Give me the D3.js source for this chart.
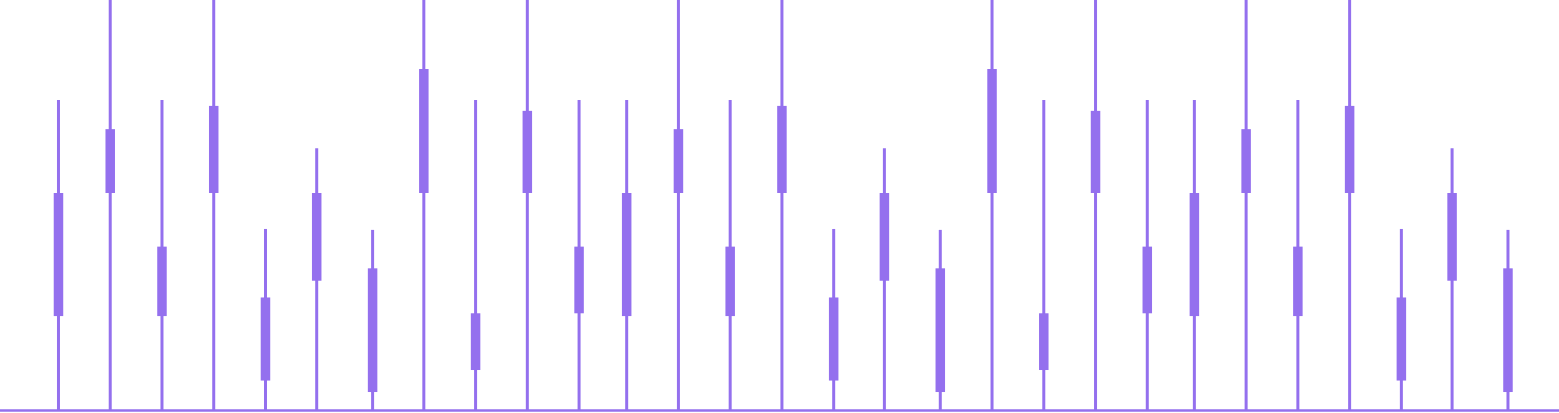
<!DOCTYPE html>
<html>
<head>
<meta charset="utf-8">
<script src="https://cdn.jsdelivr.net/npm/d3@7"></script>
<style>
  html, body { margin: 0; padding: 0; background: #ffffff; overflow: hidden; }
  svg { display: block; }
</style>
</head>
<body>
<div id="chart"></div>
<script>
// ---- data ----
const periods = [11.3, 21.3, 31.3, 41.3, 51.3, 61.2, 72.0, 81.9, 91.9, 101.9, 111.9,
                 121.1, 131.1, 141.1, 151.1, 161.1, 170.9, 181.7, 191.7, 201.7, 211.7, 221.7,
                 230.8, 240.8, 250.8, 260.8, 270.8, 280.6, 291.4];
const openValues  = [3.03, 7.00, 3.03, 7.00, 0.95, 4.17, 0.58, 7.00, 1.29, 7.00, 3.12,
                     3.03, 7.00, 3.03, 7.00, 0.95, 4.17, 0.58, 7.00, 1.29, 7.00, 3.12,
                     3.03, 7.00, 3.03, 7.00, 0.95, 4.17, 0.58];
const closeValues = [7.00, 9.06, 5.27, 9.81, 3.63, 7.00, 4.57, 11.00, 3.12, 9.65, 5.27,
                     7.00, 9.06, 5.27, 9.81, 3.63, 7.00, 4.57, 11.00, 3.12, 9.65, 5.27,
                     7.00, 9.06, 5.27, 9.81, 3.63, 7.00, 4.57];
const highValues  = [10.0, 14.0, 10.0, 14.0, 5.84, 8.44, 5.81, 14.0, 10.0, 14.0, 10.0,
                     10.0, 14.0, 10.0, 14.0, 5.84, 8.44, 5.81, 14.0, 10.0, 14.0, 10.0,
                     10.0, 14.0, 10.0, 14.0, 5.84, 8.44, 5.81];
const lowValues   = [0, 0, 0, 0, 0, 0, 0, 0, 0, 0, 0,
                     0, 0, 0, 0, 0, 0, 0, 0, 0, 0, 0,
                     0, 0, 0, 0, 0, 0, 0];
const xDomain = [0, 301.26];
const yDomain = [0, 13.226];

// ---- layout / style ----
const W = 1559, H = 413;
const color = "#9470ee";
const bodyWidth = 9.5;
const wickWidth = 3;

const data = periods.map((p, i) => ({
  t: p, open: openValues[i], close: closeValues[i], high: highValues[i], low: lowValues[i]
}));

const x = d3.scaleLinear().domain(xDomain).range([0, W]);
const y = d3.scaleLinear().domain(yDomain).range([410, 0]);

const svg = d3.select("#chart").append("svg")
  .attr("width", W).attr("height", H);

const g = svg.append("g");

// wicks
g.selectAll("line.wick").data(data).join("line")
  .attr("class", "wick")
  .attr("x1", d => x(d.t)).attr("x2", d => x(d.t))
  .attr("y1", d => y(d.low)).attr("y2", d => y(d.high))
  .attr("stroke", color).attr("stroke-width", wickWidth);

// bodies
g.selectAll("rect.body").data(data).join("rect")
  .attr("class", "body")
  .attr("x", d => x(d.t) - bodyWidth / 2)
  .attr("width", bodyWidth)
  .attr("y", d => y(Math.max(d.open, d.close)))
  .attr("height", d => Math.abs(y(d.open) - y(d.close)))
  .attr("fill", color);

// baseline
svg.append("line")
  .attr("x1", 0).attr("x2", W)
  .attr("y1", y(0) + 0.5).attr("y2", y(0) + 0.5)
  .attr("stroke", color).attr("stroke-width", 2.5);
</script>
</body>
</html>
